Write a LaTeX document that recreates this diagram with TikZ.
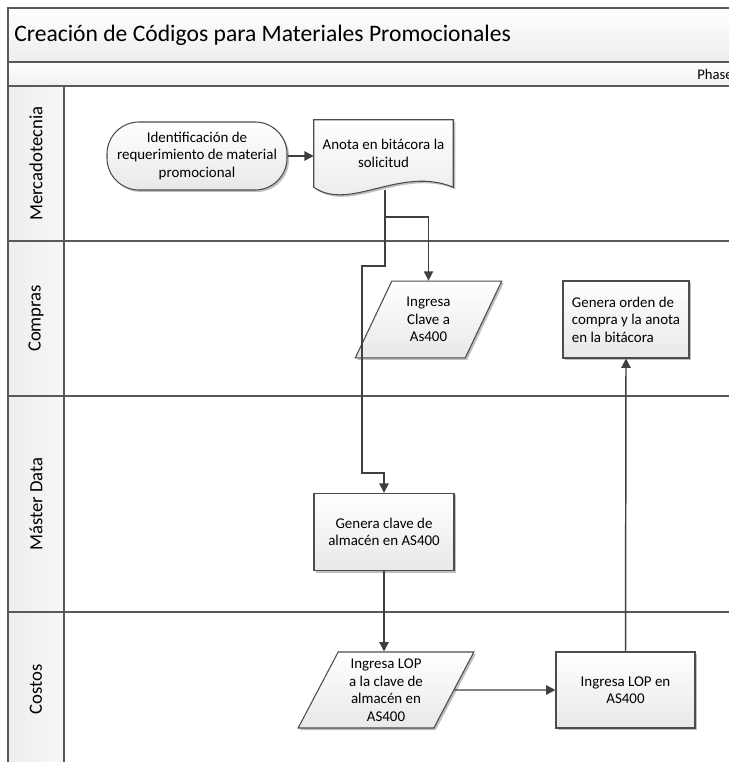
\documentclass[tikz,border=0pt]{standalone}
\usepackage{fontspec}
\setmainfont{Carlito}
\usetikzlibrary{arrows.meta,shapes.geometric,shadows}

\begin{document}
\begin{tikzpicture}[x=0.75pt,y=-0.75pt,
  lane/.style={draw=black!65,line width=1pt},
  box/.style={draw=black!70,line width=0.8pt,top color=white,bottom color=black!9,
    drop shadow={shadow xshift=1.5pt,shadow yshift=-1.5pt,opacity=0.25,fill=black}},
  txt/.style={font=\fontsize{11.2}{13.2}\selectfont,align=center,inner sep=2pt},
  proc/.style={box,txt,rectangle,minimum width=105pt,minimum height=58pt},
  datos/.style={box,txt,trapezium,trapezium left angle=64,trapezium right angle=116,
    trapezium stretches=true,minimum height=57.5pt},
  flecha/.style={draw=black!75,line width=1.1pt,-{Triangle[length=7pt,width=7pt]}}]

\useasboundingbox (0,0) rectangle (728,762);

% title and phase
\draw[lane,top color=white,bottom color=black!7] (8,8) rectangle (740,62);
\node[anchor=west,inner sep=0,font=\fontsize{17.7}{20}\selectfont] (titulo) at (14,35)
  {Creación de Códigos para Materiales Promocionales};
\draw[lane,top color=white,bottom color=black!6] (8,62) rectangle (740,86);
\node[anchor=west,inner sep=0,font=\fontsize{11}{13}\selectfont] (fase) at (697,74) {Phase};

% lanes
\foreach \ya/\yb/\nombre in {86/241/Mercadotecnia,241/396/Compras,396/612/Máster Data,612/766/Costos} {
  \draw[lane,left color=black!7,right color=black!3] (8,\ya) rectangle (64,\yb);
  \draw[lane] (64,\ya) rectangle (740,\yb);
  \node[rotate=90,font=\fontsize{14}{16}\selectfont] at (36,{(\ya+\yb)/2}) {\nombre};
}

% Mercadotecnia
\node[box,txt,rounded corners=24pt,minimum width=135pt,minimum height=51pt] (ident) at (197,156)
  {Identificación de\\requerimiento de material\\promocional};
\node[minimum width=104.25pt,minimum height=50.25pt,inner sep=0] (anota) at (383.5,153.5) {};
\draw[box] (anota.south west) -- (anota.north west) -- (anota.north east) -- (anota.south east)
  .. controls +(-53,-22) and +(36,25) .. (anota.south west) -- cycle;
\node[txt] at (anota) {Anota en bitácora la\\solicitud};
\coordinate (anotaout) at (385,190);

% Compras
\node[datos,minimum width=110.25pt] (clave) at (428.5,319.5) {Ingresa\\Clave a\\As400};
\node[proc,align=left,minimum width=94.5pt,minimum height=57.75pt] (orden) at (626,319.5)
  {Genera orden de\\compra y la anota\\en la bitácora};

% Master Data
\node[proc] (gclave) at (384,532) {Genera clave de\\almacén en AS400};

% Costos
\node[datos,minimum width=132pt,minimum height=57pt] (lop) at (386,690)
  {Ingresa LOP\\a la clave de\\almacén en\\AS400};
\node[proc,minimum width=104.25pt,minimum height=57pt] (lopas) at (625.5,690) {Ingresa LOP en\\AS400};

% connectors
\draw[flecha] (ident.east) -- (ident.east -| anota.west);
\draw[flecha] (anotaout) -- ++(0,27) -| (clave.north);
\draw[flecha] (anotaout) -- ++(0,76) -| ++(-23,207) -| (gclave.north);
\draw[flecha] (gclave.south) -- (gclave.south |- lop.north);
\draw[flecha] (lop.east) -- (lopas.west);
\draw[flecha] (lopas.north) -- (orden.south);

\end{tikzpicture}
\end{document}
